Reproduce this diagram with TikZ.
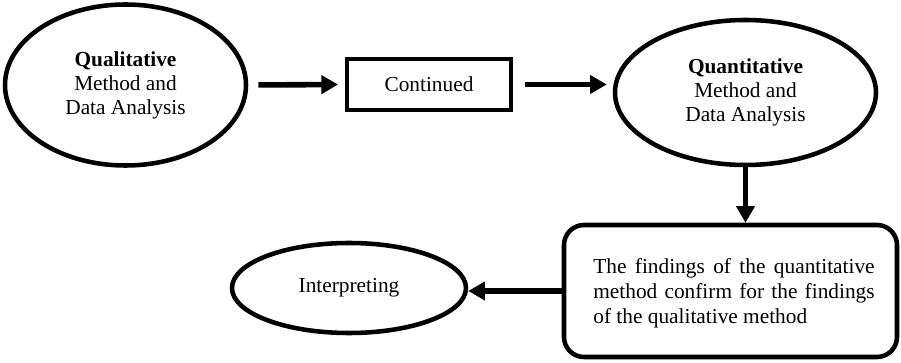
\documentclass[tikz,border=0pt]{standalone}
\usepackage{fontspec}
\setmainfont{Liberation Serif}
\usepackage{tikz}
\usetikzlibrary{shapes.geometric, arrows.meta}

\begin{document}
\begin{tikzpicture}[x=0.75pt, y=-0.75pt,
        every node/.style={font=\fontsize{16}{18}\selectfont, align=center, inner sep=0pt},
        stage/.style={draw, ellipse, line width=3.4pt},
        flowarrow/.style={-{Triangle[length=12.5pt, width=13.5pt]}, line width=4.2pt}]
        \useasboundingbox (0,0) rectangle (901,363);
        % Top row
        \node[stage, minimum width=180.75pt, minimum height=120.75pt] (qual) at (125.5,85)
            {\textbf{Qualitative}\\Method and\\Data Analysis};
        \node[draw, line width=3.4pt, minimum width=123pt, minimum height=38.25pt] (cont) at (429,84.5) {Continued};
        \node[stage, minimum width=195.75pt, minimum height=108.75pt] (quan) at (745.5,92.5)
            {\textbf{Quantitative}\\Method and\\Data Analysis};
        % Bottom row
        \node[draw, line width=3.4pt, rounded corners=15pt, minimum width=249.75pt, minimum height=99pt] (find) at (730.5,291) {};
        \node[text width=211pt, align=justify, font=\fontsize{16}{18.8}\selectfont] (findtext) at (734,293)
            {The findings of the quantitative method confirm for the findings of the qualitative method};
        \node[stage, minimum width=175.5pt, minimum height=67.5pt] (interp) at (349,288) {Interpreting};
        % Arrows
        \draw[flowarrow, shorten <=7.5pt, shorten >=5pt] (qual.east) -- (cont.west);
        \draw[flowarrow, shorten <=9pt, shorten >=4.5pt] (cont.east) -- (cont.east -| quan.west);
        \draw[flowarrow] (quan) -- (quan |- find.north);
        \draw[flowarrow] (find.west) -- (find.west -| interp.east);
    \end{tikzpicture}
\end{document}
